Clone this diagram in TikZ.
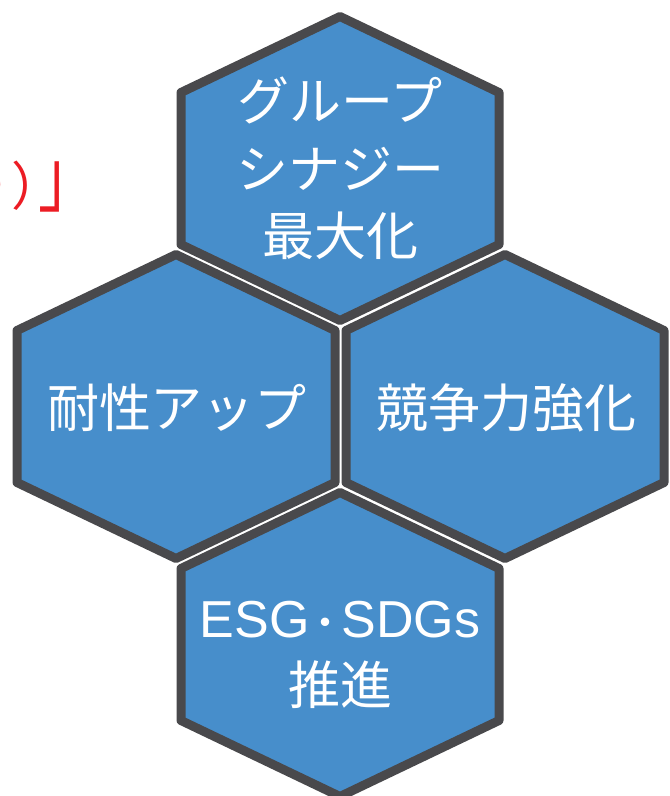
\documentclass[tikz,border=0pt]{standalone}
\usepackage{fontspec}
\setmainfont{Noto Sans CJK JP}
\newfontfamily\latinfont{Liberation Sans}
\usetikzlibrary{positioning}

\definecolor{hexblue}{RGB}{71,142,203}
\definecolor{hexedge}{RGB}{73,73,76}
\definecolor{notered}{RGB}{236,28,36}

\begin{document}
\begin{tikzpicture}[x=1pt, y=-1pt]
    \tikzstyle{hexagon} = [draw=hexedge, fill=hexblue, line width=9pt, line join=round]
    \tikzstyle{hextext} = [align=center, text=white, inner sep=0pt, font=\fontsize{52}{67.5}\selectfont]
    \tikzstyle{note} = [anchor=base east, text=notered, inner sep=0pt, font=\fontsize{52}{52}\selectfont]
    \useasboundingbox (0,0) rectangle (670,796);
    % hexagons: top, middle left, middle right, bottom
    \foreach \cx/\cy in {340/168.5, 176/406.5, 505/406.5, 340/644.5}
        \draw[hexagon] (\cx-159,\cy-76) -- (\cx,\cy-152) -- (\cx+159,\cy-76) -- (\cx+159,\cy+76) -- (\cx,\cy+152) -- (\cx-159,\cy+76) -- cycle;
    \node (synergy) [hextext] at (340,168.5) {グループ\\シナジー\\最大化};
    \node (resilience) [hextext] at (177,408) {耐性アップ};
    \node (compete) [hextext] at (506,408) {競争力強化};
    \node (esg) [hextext] at (340,655) {{\latinfont ESG}\makebox[32pt]{\fontsize{40}{40}\selectfont ・}{\latinfont SDGs}\\推進};
    \node (redtail) [note] at (99,205) {り\kern0pt）\kern-25pt\scalebox{1.15}[1.5]{」}};
\end{tikzpicture}
\end{document}
